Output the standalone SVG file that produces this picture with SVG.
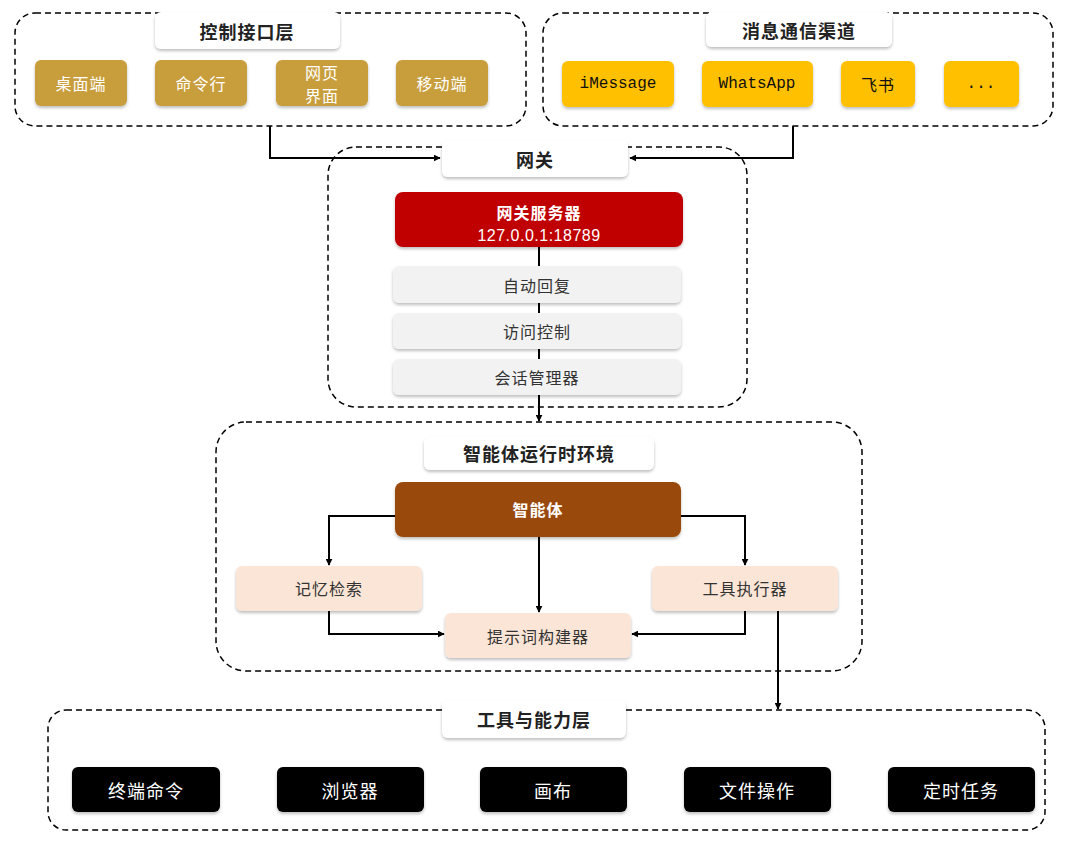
<svg xmlns="http://www.w3.org/2000/svg" width="1080" height="849" viewBox="0 0 1080 849">
<defs>
<filter id="sh" x="-10%" y="-20%" width="120%" height="150%">
<feDropShadow dx="0" dy="2" stdDeviation="1.5" flood-color="#000" flood-opacity="0.25"/>
</filter>
<marker id="ah" viewBox="0 0 10 10" refX="9" refY="5" markerWidth="7" markerHeight="7" orient="auto" markerUnits="userSpaceOnUse">
<path d="M0,0 L10,5 L0,10 z" fill="#000"/>
</marker>
<style>
.cont{fill:none;stroke:#000;stroke-width:1.5;stroke-dasharray:6 4}
.title rect{fill:#fff;filter:url(#sh)}
.title text{font-family:"Noto Sans CJK SC","Liberation Sans",sans-serif;font-size:18px;font-weight:bold;fill:#222;text-anchor:middle;dominant-baseline:central;letter-spacing:1px}
.t{font-family:"Noto Sans CJK SC","Liberation Sans",sans-serif;font-size:16px;text-anchor:middle;dominant-baseline:central;letter-spacing:1px}
.m{font-family:"Liberation Mono","DejaVu Sans Mono","Noto Sans CJK SC",monospace;font-size:16px;text-anchor:middle;dominant-baseline:central}
.gold rect{fill:#C89E3C;filter:url(#sh)}
.gold text{fill:#fff}
.yel rect{fill:#FFC000;filter:url(#sh)}
.yel text{fill:#111}
.gray rect{fill:#F2F2F2;filter:url(#sh)}
.gray text{fill:#333}
.peach rect{fill:#FBE5D6;filter:url(#sh)}
.peach text{fill:#333}
.blk rect{fill:#000;filter:url(#sh)}
.blk text{fill:#fff;font-size:18px}
.conn path{fill:none;stroke:#000;stroke-width:2}
</style>
</defs>
<rect width="1080" height="849" fill="#fff"/>

<g id="control-layer">
<rect class="cont" x="15" y="13" width="511" height="113" rx="20"/>
<g class="title"><rect x="155" y="12" width="185" height="37" rx="6"/><text x="247" y="31">控制接口层</text></g>
<g id="desktop" class="gold"><rect x="35" y="60" width="92" height="46" rx="6"/><text class="t" x="81" y="83">桌面端</text></g>
<g id="cli" class="gold"><rect x="155" y="60" width="92" height="46" rx="6"/><text class="t" x="201" y="83">命令行</text></g>
<g id="web" class="gold"><rect x="276" y="60" width="92" height="46" rx="6"/><text class="t" x="322" y="72" font-size="15">网页</text><text class="t" x="322" y="95" font-size="15">界面</text></g>
<g id="mobile" class="gold"><rect x="396" y="60" width="92" height="46" rx="6"/><text class="t" x="442" y="83">移动端</text></g>
</g>

<g id="messaging">
<rect class="cont" x="543" y="13" width="510" height="113" rx="20"/>
<g class="title"><rect x="706" y="12" width="186" height="35" rx="6"/><text x="799" y="30">消息通信渠道</text></g>
<g id="imessage" class="yel"><rect x="562" y="61" width="112" height="46" rx="6"/><text class="m" x="618" y="84">iMessage</text></g>
<g id="whatsapp" class="yel"><rect x="702" y="61" width="111" height="46" rx="6"/><text class="m" x="757" y="84">WhatsApp</text></g>
<g id="feishu" class="yel"><rect x="841" y="61" width="74" height="46" rx="6"/><text class="t" x="878" y="84">飞书</text></g>
<g id="more" class="yel"><rect x="944" y="61" width="75" height="46" rx="6"/><text class="m" x="981" y="84">...</text></g>
</g>

<g id="gateway">
<rect class="cont" x="328" y="147" width="419" height="260" rx="28"/>
<g class="title"><rect x="442" y="140" width="186" height="37" rx="6"/><text x="535" y="159">网关</text></g>
<g id="gw-server"><rect x="395" y="192" width="288" height="55" rx="8" fill="#C00000" filter="url(#sh)"/>
<text class="t" x="539" y="212" fill="#fff" font-weight="bold">网关服务器</text>
<text class="t" x="539" y="235" fill="#fff" style="font-family:'Liberation Sans','DejaVu Sans',sans-serif;letter-spacing:0.5px" font-size="17">127.0.0.1:18789</text></g>
<g id="auto-reply" class="gray"><rect x="393" y="266" width="288" height="37" rx="6"/><text class="t" x="537" y="285">自动回复</text></g>
<g id="access" class="gray"><rect x="393" y="313" width="288" height="36" rx="6"/><text class="t" x="537" y="331">访问控制</text></g>
<g id="session" class="gray"><rect x="393" y="359" width="288" height="36" rx="6"/><text class="t" x="537" y="377">会话管理器</text></g>
</g>

<g id="runtime">
<rect class="cont" x="216" y="422" width="646" height="249" rx="30"/>
<g class="title"><rect x="424" y="437" width="230" height="33" rx="6"/><text x="539" y="453">智能体运行时环境</text></g>
<g id="agent"><rect x="395" y="482" width="286" height="55" rx="8" fill="#9A4A08" filter="url(#sh)"/><text class="t" x="538" y="509" fill="#fff" font-weight="bold" font-size="18">智能体</text></g>
<g id="memory" class="peach"><rect x="236" y="566" width="186" height="45" rx="6"/><text class="t" x="329" y="588">记忆检索</text></g>
<g id="tool-exec" class="peach"><rect x="652" y="566" width="186" height="45" rx="6"/><text class="t" x="745" y="588">工具执行器</text></g>
<g id="prompt" class="peach"><rect x="445" y="613" width="186" height="45" rx="6"/><text class="t" x="538" y="636">提示词构建器</text></g>
</g>

<g id="tools">
<rect class="cont" x="48" y="710" width="997" height="120" rx="18"/>
<g class="title"><rect x="442" y="700" width="184" height="38" rx="6"/><text x="534" y="719">工具与能力层</text></g>
<g id="terminal" class="blk"><rect x="72" y="767" width="148" height="45" rx="6"/><text class="t" x="146" y="790">终端命令</text></g>
<g id="browser" class="blk"><rect x="277" y="767" width="147" height="45" rx="6"/><text class="t" x="350" y="790">浏览器</text></g>
<g id="canvas" class="blk"><rect x="480" y="767" width="147" height="45" rx="6"/><text class="t" x="553" y="790">画布</text></g>
<g id="fileops" class="blk"><rect x="684" y="767" width="147" height="45" rx="6"/><text class="t" x="757" y="790">文件操作</text></g>
<g id="cron" class="blk"><rect x="888" y="767" width="147" height="45" rx="6"/><text class="t" x="961" y="790">定时任务</text></g>
</g>

<g id="connectors" class="conn">
<path d="M270,126 V158 H440" marker-end="url(#ah)"/>
<path d="M793,126 V158 H630" marker-end="url(#ah)"/>
<path d="M539,247 V266"/>
<path d="M539,303 V313"/>
<path d="M539,349 V359"/>
<path d="M539,395 V421" marker-end="url(#ah)"/>
<path d="M395,516 H329 V565" marker-end="url(#ah)"/>
<path d="M681,516 H745 V565" marker-end="url(#ah)"/>
<path d="M539,537 V612" marker-end="url(#ah)"/>
<path d="M329,611 V634 H444" marker-end="url(#ah)"/>
<path d="M745,611 V634 H632" marker-end="url(#ah)"/>
<path d="M778,611 V709" marker-end="url(#ah)"/>
</g>
</svg>
